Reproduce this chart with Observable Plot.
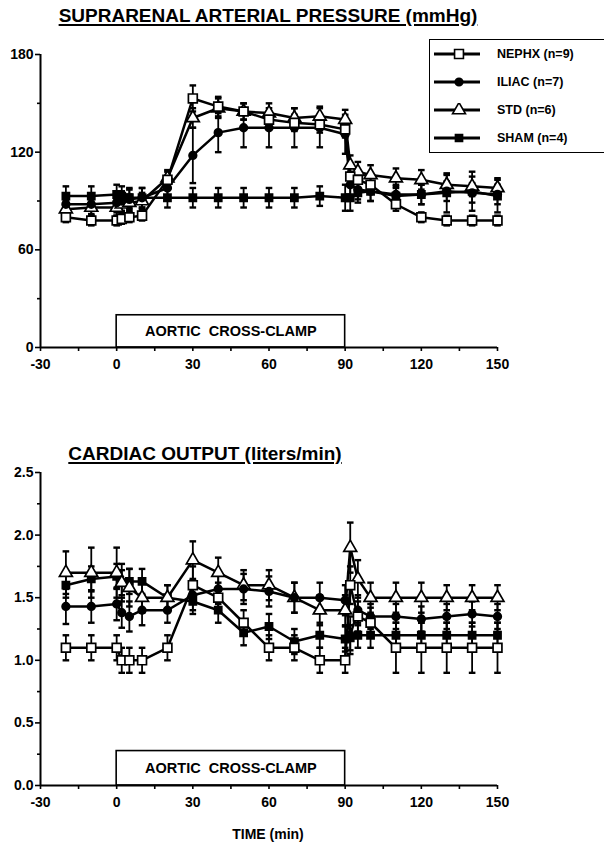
<!DOCTYPE html>
<html><head><meta charset="utf-8">
<script src="https://cdn.jsdelivr.net/npm/d3@7"></script>
<script src="https://cdn.jsdelivr.net/npm/@observablehq/plot@0.6"></script>
<style>
body{margin:0;background:#fff;}
#wrap{position:relative;width:604px;height:850px;overflow:hidden;font-family:"Liberation Sans",Arial,sans-serif;font-weight:bold;color:#000;}
.abs{position:absolute;}
.title{position:absolute;font-size:19px;line-height:1;text-decoration:underline;text-decoration-thickness:2px;text-underline-offset:2px;white-space:nowrap;transform:translateX(-50%);}
#legend{position:absolute;left:429px;top:39px;width:180px;height:114px;border:1.6px solid #000;box-sizing:border-box;background:#fff;}
.lrow{position:absolute;left:2px;height:20px;display:flex;align-items:center;font-size:12.5px;white-space:nowrap;}
.lrow svg{margin-right:15px;}
</style></head><body><div id="wrap"></div>
<script>
// ---------- data ----------
const times = [-20, -10, 0, 2, 5, 10, 20, 30, 40, 50, 60, 70, 80, 90, 92, 95, 100, 110, 120, 130, 140, 150];
const groups = ["NEPHX (n=9)", "ILIAC (n=7)", "STD (n=6)", "SHAM (n=4)"];

// Suprarenal arterial pressure (mmHg)
const sapNephx = [80, 78, 78, 79, 80, 81, 103, 153, 148, 145, 140, 138, 137, 134, 105, 103, 100, 88, 80, 78, 78, 78];
const sapNephxErr = [3, 3, 3, 3, 3, 3, 5, 8, 6, 5, 5, 5, 5, 5, 6, 5, 5, 4, 3, 3, 3, 3];
const sapIliac = [88, 88, 89, 90, 91, 92, 98, 118, 132, 135, 135, 135, 135, 131, 100, 97, 96, 94, 94, 96, 95, 94];
const sapIliacErr = [6, 6, 6, 6, 6, 6, 5, 17, 12, 12, 12, 12, 12, 12, 8, 6, 6, 6, 6, 6, 6, 6];
const sapStd = [85, 86, 86, 88, 89, 90, 104, 141, 147, 145, 144, 141, 142, 140, 112, 108, 106, 104, 103, 100, 99, 98];
const sapStdErr = [5, 5, 5, 5, 5, 5, 5, 6, 6, 5, 6, 6, 6, 6, 6, 6, 6, 6, 6, 6, 6, 6];
const sapSham = [93, 93, 94, 93, 92, 92, 92, 92, 92, 92, 92, 92, 93, 92, 92, 95, 96, 93, 94, 95, 96, 93];
const sapShamErr = [6, 6, 6, 6, 6, 6, 6, 6, 6, 6, 6, 6, 6, 8, 8, 6, 6, 6, 6, 12, 12, 10];

// Cardiac output (liters/min)
const coNephx = [1.1, 1.1, 1.1, 1.0, 1.0, 1.0, 1.1, 1.6, 1.5, 1.3, 1.1, 1.1, 1.0, 1.0, 1.6, 1.35, 1.3, 1.1, 1.1, 1.1, 1.1, 1.1];
const coNephxErr = [0.1, 0.1, 0.1, 0.1, 0.1, 0.1, 0.1, 0.15, 0.12, 0.1, 0.1, 0.1, 0.1, 0.1, 0.15, 0.12, 0.12, 0.2, 0.2, 0.2, 0.2, 0.2];
const coIliac = [1.43, 1.43, 1.45, 1.38, 1.35, 1.4, 1.4, 1.52, 1.57, 1.57, 1.55, 1.5, 1.5, 1.48, 1.2, 1.4, 1.35, 1.35, 1.33, 1.35, 1.37, 1.35];
const coIliacErr = [0.14, 0.13, 0.13, 0.12, 0.12, 0.12, 0.1, 0.12, 0.12, 0.12, 0.12, 0.12, 0.12, 0.12, 0.15, 0.12, 0.1, 0.1, 0.1, 0.1, 0.1, 0.1];
const coStd = [1.7, 1.7, 1.7, 1.62, 1.58, 1.5, 1.5, 1.8, 1.7, 1.6, 1.6, 1.5, 1.4, 1.4, 1.9, 1.65, 1.5, 1.5, 1.5, 1.5, 1.5, 1.5];
const coStdErr = [0.17, 0.2, 0.2, 0.15, 0.15, 0.12, 0.1, 0.15, 0.12, 0.12, 0.12, 0.12, 0.12, 0.12, 0.2, 0.15, 0.12, 0.12, 0.12, 0.1, 0.1, 0.1];
const coSham = [1.6, 1.65, 1.67, 1.62, 1.63, 1.63, 1.5, 1.47, 1.4, 1.22, 1.27, 1.15, 1.2, 1.17, 1.18, 1.2, 1.2, 1.2, 1.2, 1.2, 1.2, 1.2];
const coShamErr = [0.1, 0.1, 0.1, 0.1, 0.1, 0.1, 0.1, 0.1, 0.1, 0.1, 0.1, 0.1, 0.1, 0.1, 0.1, 0.1, 0.1, 0.1, 0.1, 0.1, 0.1, 0.1];

const xTicks = [-30, 0, 30, 60, 90, 120, 150];
const xMinorTicks = [-30, -15, 0, 15, 30, 45, 60, 75, 90, 105, 120, 135, 150];
const sapTicks = [0, 60, 120, 180];
const sapMinorTicks = [30, 90, 150];
const coTicks = [0, 0.5, 1.0, 1.5, 2.0, 2.5];
const coMinorTicks = [0.25, 0.75, 1.25, 1.75, 2.25];
const clamp = [{start: 0, end: 90, label: "AORTIC  CROSS-CLAMP"}];

const titles = {sap: "SUPRARENAL ARTERIAL PRESSURE (mmHg)", co: "CARDIAC OUTPUT (liters/min)", x: "TIME (min)"};

// ---------- styling ----------
const FONT = "Liberation Sans, Arial, sans-serif";
const capSymbol = {draw(ctx, size) { const r = Math.sqrt(size / Math.PI); ctx.moveTo(-r, 0); ctx.lineTo(r, 0); }};
const styles = {
  "NEPHX (n=9)": {symbol: "square", r: 5, fill: "white"},
  "ILIAC (n=7)": {symbol: "circle", r: 3.8, fill: "black"},
  "STD (n=6)":   {symbol: "triangle", r: 4.8, fill: "white"},
  "SHAM (n=4)":  {symbol: "square", r: 4, fill: "black"}
};

function rows(vals, errs, g) { return times.map((t, i) => ({t, v: vals[i], e: errs[i], g})); }

function chart({series, yDomain, yTicks, yMinor, yFormat, top, height, marginTop, marginBottom}) {
  const boxTop = yDomain[1] * 0.11;
  const marks = [];
  marks.push(Plot.rect(clamp, {x1: "start", x2: "end", y1: yDomain[0], y2: boxTop, fill: "white", stroke: "black", strokeWidth: 1.6}));
  marks.push(Plot.text(clamp, {x: d => (d.start + d.end) / 2, y: boxTop / 2, text: "label", fontSize: 14.5, fontWeight: "bold", fontFamily: FONT, fill: "black"}));
  marks.push(Plot.ruleX([xMinorTicks[0]], {y1: yDomain[0], y2: yDomain[1], stroke: "black", strokeWidth: 2}));
  marks.push(Plot.ruleY([yDomain[0]], {x1: xMinorTicks[0], x2: xMinorTicks[xMinorTicks.length - 1], stroke: "black", strokeWidth: 2}));
  const order = [...series].reverse();
  for (const s of order) {
    marks.push(Plot.line(s, {x: "t", y: "v", stroke: "black", strokeWidth: 2.5}));
    marks.push(Plot.ruleX(s, {x: "t", y1: d => d.v - d.e, y2: d => d.v + d.e, stroke: "black", strokeWidth: 1.8}));
    marks.push(Plot.dot(s, {x: "t", y: d => d.v + d.e, symbol: capSymbol, r: 3.3, stroke: "black", strokeWidth: 2.4}));
    marks.push(Plot.dot(s, {x: "t", y: d => d.v - d.e, symbol: capSymbol, r: 3.3, stroke: "black", strokeWidth: 2.4}));
  }
  for (const s of order) {
    const st = styles[s[0].g];
    marks.push(Plot.dot(s, {x: "t", y: "v", symbol: st.symbol, r: st.r, fill: st.fill, stroke: "black", strokeWidth: 1.7}));
  }
  marks.push(Plot.axisX({ticks: xMinorTicks, tickSize: 4, tickFormat: () => "", label: null, strokeWidth: 1.6}));
  marks.push(Plot.axisX({ticks: xTicks, tickSize: 0, tickPadding: 12, tickFormat: d => String(d), label: null, fontSize: 14, fontWeight: "bold"}));
  marks.push(Plot.axisY({ticks: yMinor, tickSize: 3, tickFormat: () => "", label: null, strokeWidth: 1.6}));
  marks.push(Plot.axisY({ticks: yTicks, tickSize: 5, tickPadding: 2, tickFormat: yFormat, label: null, fontSize: 14, fontWeight: "bold", strokeWidth: 1.6}));

  const svg = Plot.plot({
    width: 604, height, marginLeft: 40, marginRight: 107, marginTop, marginBottom,
    x: {domain: [xMinorTicks[0], xMinorTicks[xMinorTicks.length - 1]]},
    y: {domain: yDomain},
    style: {fontFamily: FONT, fontWeight: "bold", background: "transparent", color: "black", overflow: "visible"},
    marks
  });
  svg.style.position = "absolute";
  svg.style.left = "0px";
  svg.style.top = top + "px";
  return svg;
}

const wrap = document.getElementById("wrap");

const sapSeries = [
  rows(sapNephx, sapNephxErr, groups[0]),
  rows(sapIliac, sapIliacErr, groups[1]),
  rows(sapStd, sapStdErr, groups[2]),
  rows(sapSham, sapShamErr, groups[3])
];
const coSeries = [
  rows(coNephx, coNephxErr, groups[0]),
  rows(coIliac, coIliacErr, groups[1]),
  rows(coStd, coStdErr, groups[2]),
  rows(coSham, coShamErr, groups[3])
];

wrap.appendChild(chart({series: sapSeries, yDomain: [0, 180], yTicks: sapTicks, yMinor: sapMinorTicks, yFormat: d => String(d), top: 0, height: 380, marginTop: 54, marginBottom: 33}));
wrap.appendChild(chart({series: coSeries, yDomain: [0, 2.5], yTicks: coTicks, yMinor: coMinorTicks, yFormat: d3.format(".1f"), top: 430, height: 400, marginTop: 42, marginBottom: 45}));

function addDiv(cls, text, css) {
  const d = document.createElement("div");
  d.className = cls; d.textContent = text; Object.assign(d.style, css); wrap.appendChild(d); return d;
}
addDiv("title", titles.sap, {left: "268px", top: "6px"});
addDiv("title", titles.co, {left: "205px", top: "444px"});
addDiv("abs", titles.x, {left: "268px", top: "826px", fontSize: "14px", transform: "translateX(-50%)", whiteSpace: "nowrap"});

// legend
const legend = document.createElement("div");
legend.id = "legend";
groups.forEach((g, i) => {
  const st = styles[g];
  const row = document.createElement("div");
  row.className = "lrow";
  row.style.top = (4 + i * 28) + "px";
  const area = st.r * st.r * Math.PI;
  const sym = {square: d3.symbolSquare, circle: d3.symbolCircle, triangle: d3.symbolTriangle}[st.symbol];
  const path = d3.symbol(sym, area)();
  row.innerHTML = `<svg width="50" height="14" viewBox="0 0 50 14"><line x1="2" x2="48" y1="7" y2="7" stroke="black" stroke-width="2.8"/><path transform="translate(27,7)" d="${path}" fill="${st.fill}" stroke="black" stroke-width="1.6"/></svg><span>${g}</span>`;
  legend.appendChild(row);
});
wrap.appendChild(legend);
</script>
</body></html>
